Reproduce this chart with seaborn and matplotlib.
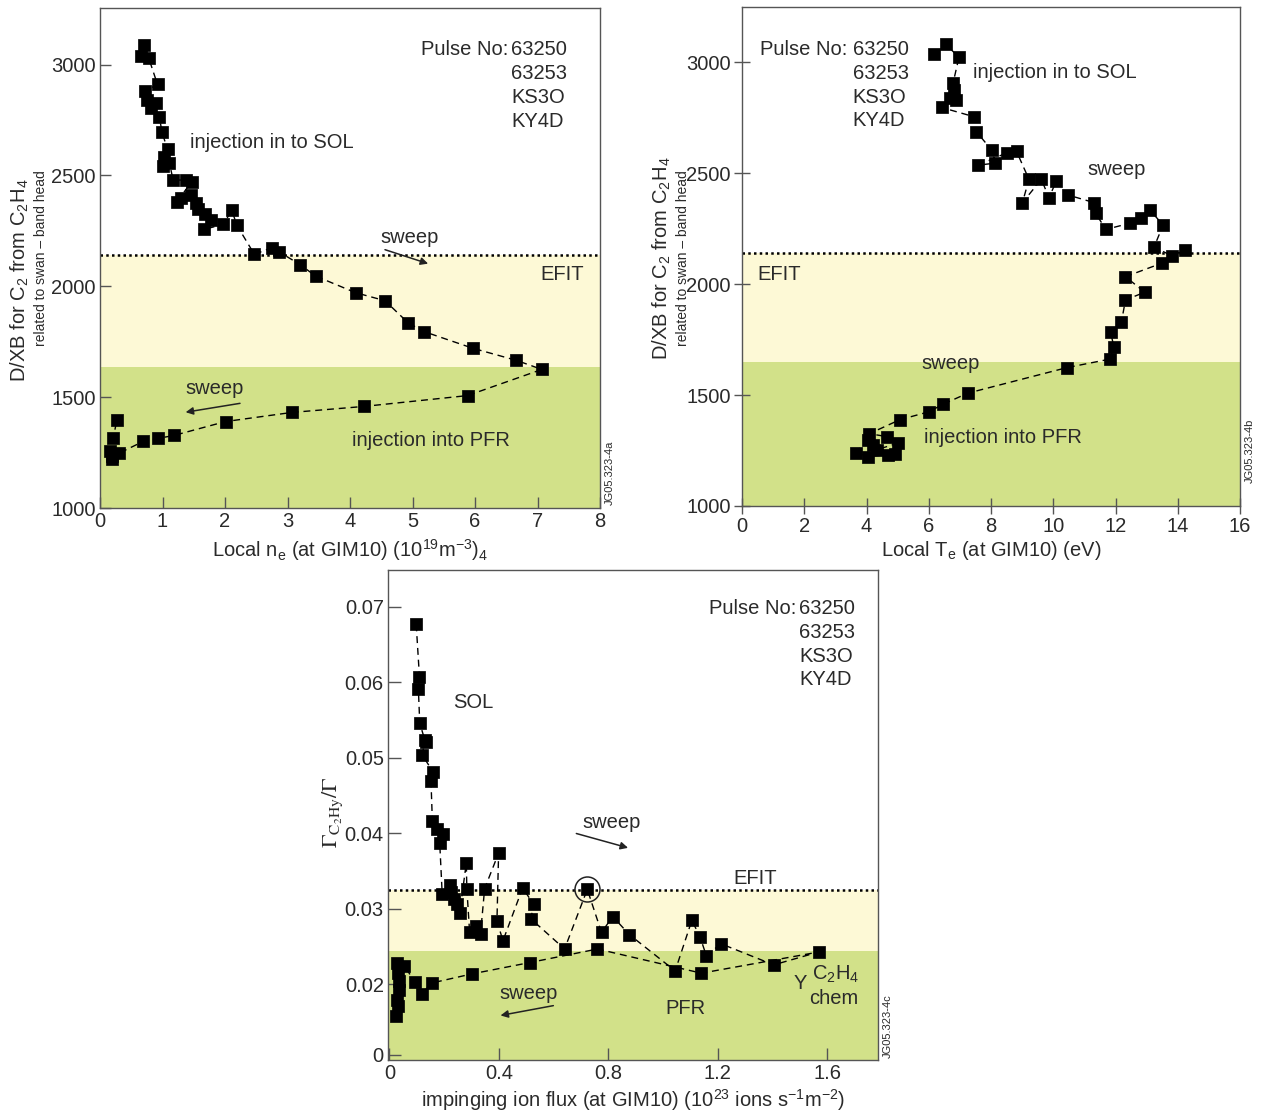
import numpy as np
import pandas as pd
import matplotlib
matplotlib.use("Agg")
import matplotlib.pyplot as plt
import seaborn as sns

# ---------------- data: panel (a) ----------------
ne_a = [0.71, 0.65, 0.78, 0.92, 0.72, 0.75, 0.89, 0.81, 0.95, 0.99, 1.08, 1.03, 1.01, 1.11,
        1.17, 1.37, 1.47, 1.23, 1.29, 1.46, 1.53, 1.56, 1.68, 1.77, 1.67, 1.97, 2.11, 2.19,
        2.47, 2.75, 2.86, 3.20, 3.45, 4.09, 4.56, 4.93, 5.18, 5.97, 6.66, 7.07,
        5.88, 4.22, 3.07, 2.01, 1.18, 0.93, 0.69, 0.31, 0.19, 0.16, 0.19, 0.21, 0.27]
dxb_a = [3089, 3039, 3029, 2910, 2880, 2842, 2827, 2806, 2765, 2697, 2617, 2582, 2542, 2557,
         2479, 2479, 2472, 2382, 2400, 2412, 2377, 2347, 2327, 2298, 2257, 2279, 2342, 2275,
         2144, 2174, 2156, 2098, 2046, 1971, 1935, 1835, 1796, 1720, 1666, 1625,
         1507, 1458, 1431, 1390, 1327, 1314, 1300, 1248, 1236, 1258, 1221, 1314, 1396]

# ---------------- data: panel (b) ----------------
te_b = [6.17, 6.54, 6.97, 6.78, 6.82, 6.89, 6.68, 6.41, 7.46, 7.53, 8.02, 8.14, 7.59, 8.50,
        8.82, 9.22, 9.01, 9.62, 9.86, 10.10, 10.48, 11.31, 11.36, 11.69, 12.46, 12.81, 13.10,
        13.53, 13.24, 13.82, 14.22, 13.49, 12.32, 12.94, 12.32, 12.19, 11.84, 11.95, 11.81,
        10.44, 7.26, 6.46, 6.01, 5.07, 4.09, 4.65, 5.02, 4.34, 4.22, 4.05, 3.66, 4.04, 4.70, 4.91]
dxb_b = [3036, 3083, 3023, 2906, 2875, 2830, 2838, 2797, 2755, 2688, 2605, 2546, 2537, 2592,
         2599, 2473, 2368, 2473, 2390, 2465, 2402, 2368, 2320, 2247, 2275, 2297, 2335,
         2267, 2168, 2127, 2155, 2095, 2034, 1964, 1929, 1829, 1786, 1716, 1662,
         1624, 1509, 1459, 1425, 1389, 1326, 1313, 1284, 1254, 1276, 1299, 1241, 1223, 1231, 1236]

# ---------------- data: panel (c) ----------------
flux_c = [0.098, 0.110, 0.106, 0.111, 0.132, 0.130, 0.120, 0.159, 0.152, 0.157, 0.175, 0.197,
          0.184, 0.193, 0.223, 0.226, 0.235, 0.248, 0.257, 0.281, 0.283, 0.293, 0.318, 0.333,
          0.348, 0.399, 0.393, 0.415, 0.487, 0.527, 0.517, 0.640, 0.723, 0.775, 0.816, 0.877,
          1.044, 1.105, 1.135, 1.158, 1.211, 1.404, 1.568,
          1.140, 0.760, 0.512, 0.301, 0.155, 0.119, 0.093, 0.055, 0.027, 0.030, 0.036, 0.034,
          0.027, 0.030, 0.024]
gamma_c = [0.0677, 0.0607, 0.0591, 0.0546, 0.0521, 0.0524, 0.0504, 0.0482, 0.0470, 0.0417,
           0.0406, 0.0399, 0.0387, 0.0320, 0.0332, 0.0323, 0.0313, 0.0307, 0.0295, 0.0361,
           0.0327, 0.0270, 0.0278, 0.0267, 0.0327, 0.0374, 0.0284, 0.0258, 0.0328, 0.0306,
           0.0287, 0.0247, 0.0326, 0.0269, 0.0290, 0.0266, 0.0218, 0.0285, 0.0263, 0.0238,
           0.0254, 0.0226, 0.0243,
           0.0215, 0.0247, 0.0229, 0.0214, 0.0202, 0.0188, 0.0203, 0.0225, 0.0228, 0.0215,
           0.0204, 0.0193, 0.0180, 0.0171, 0.0158]
circled_index = 32

# region boundaries (EFIT separatrix line and PFR region top)
efit_a, pfr_a = 2143, 1635
efit_b, pfr_b = 2142, 1651
efit_c, pfr_c = 0.03246, 0.02438

xticks_a = [0, 1, 2, 3, 4, 5, 6, 7, 8]
xticks_b = [0, 2, 4, 6, 8, 10, 12, 14, 16]
yticks_ab = [1000, 1500, 2000, 2500, 3000]
xticks_c = [0, 0.4, 0.8, 1.2, 1.6]
xticklabels_c = ["0", "0.4", "0.8", "1.2", "1.6"]
yticks_c = [0.0107, 0.02, 0.03, 0.04, 0.05, 0.06, 0.07]
yticklabels_c = ["0", "0.02", "0.03", "0.04", "0.05", "0.06", "0.07"]

# ---------------- style ----------------
sns.set_theme(style="white")
plt.rcParams["font.family"] = ["Liberation Sans", "DejaVu Sans"]
plt.rcParams["mathtext.fontset"] = "custom"
plt.rcParams["mathtext.rm"] = "Liberation Sans"
plt.rcParams["mathtext.it"] = "Liberation Sans:italic"
plt.rcParams["mathtext.bf"] = "Liberation Sans:bold"
plt.rcParams["mathtext.sf"] = "Liberation Sans"
plt.rcParams["mathtext.default"] = "rm"

TXT = "#2a2a2a"
CREAM = "#FDF9D6"
GREEN = "#D2E189"
TICK_FS = 14.5
ANN_FS = 14.5

fig = plt.figure(figsize=(12.62, 11.13), dpi=100)
ax_a = fig.add_axes([100/1262, 1-508/1113, 500/1262, 500/1113])
ax_b = fig.add_axes([742/1262, 1-506/1113, 498/1262, 499/1113])
ax_c = fig.add_axes([388/1262, 1-1060/1113, 490/1262, 490/1113])


def draw_panel(ax, x, y, efit, pfr, ylo, ms):
    ax.axhspan(ylo, pfr, color=GREEN, lw=0, zorder=0)
    ax.axhspan(pfr, efit, color=CREAM, lw=0, zorder=0)
    ax.axhline(efit, color="black", ls=(0, (1, 1.3)), lw=1.8, zorder=1)
    df = pd.DataFrame({"x": x, "y": y})
    sns.lineplot(data=df, x="x", y="y", sort=False, estimator=None, ax=ax,
                 color="black", lw=1.0, linestyle=(0, (5, 3.5)), zorder=2)
    sns.scatterplot(data=df, x="x", y="y", ax=ax, marker="s", s=ms,
                    color="black", edgecolor="black", linewidth=0.5, zorder=3,
                    clip_on=False)
    ax.set_xlabel("")
    ax.set_ylabel("")
    for sp in ax.spines.values():
        sp.set_color("#555555")
        sp.set_linewidth(1.0)


ARROW = dict(arrowstyle="-|>", color="#222222", lw=1.1, mutation_scale=11, shrinkA=0, shrinkB=0)

# ----- panel a -----
draw_panel(ax_a, ne_a, dxb_a, efit_a, pfr_a, 1000, 85)
ax_a.set_xlim(0, 8)
ax_a.set_ylim(1000, 3255)
ax_a.set_xticks(xticks_a)
ax_a.set_yticks(yticks_ab)
ax_a.tick_params(bottom=True, left=True, direction="in", length=8, width=1, colors="#555555",
                 labelcolor=TXT, labelsize=TICK_FS, pad=3)
ax_a.text(6.53, 3066, "Pulse No:", ha="right", va="center", fontsize=ANN_FS, color=TXT)
for i, s in enumerate(["63250", "63253", "KS3O", "KY4D"]):
    ax_a.text(6.58, 3066 - i * 108, s, ha="left", va="center", fontsize=ANN_FS, color=TXT)
ax_a.text(1.44, 2647, "injection in to SOL", ha="left", va="center", fontsize=ANN_FS, color=TXT)
ax_a.text(4.48, 2219, "sweep", ha="left", va="center", fontsize=ANN_FS, color=TXT)
ax_a.annotate("", xy=(5.25, 2102), xytext=(4.56, 2165), arrowprops=ARROW)
ax_a.text(7.05, 2053, "EFIT", ha="left", va="center", fontsize=ANN_FS, color=TXT)
ax_a.text(1.36, 1539, "sweep", ha="left", va="center", fontsize=ANN_FS, color=TXT)
ax_a.annotate("", xy=(1.37, 1432), xytext=(2.24, 1472), arrowprops=ARROW)
ax_a.text(4.04, 1305, "injection into PFR", ha="left", va="center", fontsize=ANN_FS, color=TXT)
ax_a.text(1.02, 0.07, "JG05.323-4a", transform=ax_a.transAxes, rotation=90,
          ha="center", va="center", fontsize=8, color=TXT)
ax_a.set_xlabel(r"Local n$_e$ (at GIM10) (10$^{19}$m$^{-3}$)$_4$", fontsize=TICK_FS,
                color=TXT, labelpad=4)
fig.text(20/1262, 1-280/1113, r"D/XB for C$_2$ from C$_2$H$_4$", rotation=90,
         ha="center", va="center", fontsize=14.5, color=TXT)
fig.text(41/1262, 1-258/1113, "related to swan – band head", rotation=90,
         ha="center", va="center", fontsize=10, color=TXT)

# ----- panel b -----
draw_panel(ax_b, te_b, dxb_b, efit_b, pfr_b, 1000, 85)
ax_b.set_xlim(0, 16)
ax_b.set_ylim(1000, 3250)
ax_b.set_xticks(xticks_b)
ax_b.set_yticks(yticks_ab)
ax_b.tick_params(bottom=True, left=True, direction="inout", length=12, width=1,
                 colors="#555555", labelcolor=TXT, labelsize=TICK_FS, pad=2)
ax_b.text(3.40, 3060, "Pulse No:", ha="right", va="center", fontsize=ANN_FS, color=TXT)
for i, s in enumerate(["63250", "63253", "KS3O", "KY4D"]):
    ax_b.text(3.56, 3060 - i * 108, s, ha="left", va="center", fontsize=ANN_FS, color=TXT)
ax_b.text(7.42, 2956, "injection in to SOL", ha="left", va="center", fontsize=ANN_FS, color=TXT)
ax_b.text(11.11, 2519, "sweep", ha="left", va="center", fontsize=ANN_FS, color=TXT)
ax_b.text(0.48, 2046, "EFIT", ha="left", va="center", fontsize=ANN_FS, color=TXT)
ax_b.text(5.78, 1641, "sweep", ha="left", va="center", fontsize=ANN_FS, color=TXT)
ax_b.text(5.84, 1308, "injection into PFR", ha="left", va="center", fontsize=ANN_FS, color=TXT)
ax_b.text(1.02, 0.11, "JG05.323-4b", transform=ax_b.transAxes, rotation=90,
          ha="center", va="center", fontsize=8, color=TXT)
ax_b.set_xlabel(r"Local T$_e$ (at GIM10) (eV)", fontsize=TICK_FS, color=TXT, labelpad=2)
fig.text(662/1262, 1-258/1113, r"D/XB for C$_2$ from C$_2$H$_4$", rotation=90,
         ha="center", va="center", fontsize=14.5, color=TXT)
fig.text(683/1262, 1-258/1113, "related to swan – band head", rotation=90,
         ha="center", va="center", fontsize=10, color=TXT)

# ----- panel c -----
draw_panel(ax_c, flux_c, gamma_c, efit_c, pfr_c, 0.0100, 75)
ax_c.plot([flux_c[circled_index]], [gamma_c[circled_index]], marker="o", ms=18,
          mfc="none", mec="#222222", mew=1.1, ls="none", zorder=4)
ax_c.set_xlim(-0.005, 1.785)
ax_c.set_ylim(0.0100, 0.0749)
ax_c.set_xticks(xticks_c)
ax_c.set_xticklabels(xticklabels_c)
ax_c.set_yticks(yticks_c)
ax_c.set_yticklabels(yticklabels_c)
ax_c.tick_params(bottom=True, left=True, direction="in", length=9, width=1, colors="#555555",
                 labelcolor=TXT, labelsize=TICK_FS, pad=3)
ax_c.text(1.487, 0.0698, "Pulse No:", ha="right", va="center", fontsize=ANN_FS, color=TXT)
for i, s in enumerate(["63250", "63253", "KS3O", "KY4D"]):
    ax_c.text(1.498, 0.0698 - i * 0.00315, s, ha="left", va="center", fontsize=ANN_FS, color=TXT)
ax_c.text(0.234, 0.0573, "SOL", ha="left", va="center", fontsize=ANN_FS, color=TXT)
ax_c.text(0.704, 0.0414, "sweep", ha="left", va="center", fontsize=ANN_FS, color=TXT)
ax_c.annotate("", xy=(0.872, 0.0381), xytext=(0.683, 0.0400), arrowprops=ARROW)
ax_c.text(1.258, 0.0341, "EFIT", ha="left", va="center", fontsize=ANN_FS, color=TXT)
ax_c.text(0.402, 0.0188, "sweep", ha="left", va="center", fontsize=ANN_FS, color=TXT)
ax_c.annotate("", xy=(0.406, 0.0159), xytext=(0.599, 0.0172), arrowprops=ARROW)
ax_c.text(1.010, 0.0168, "PFR", ha="left", va="center", fontsize=ANN_FS, color=TXT)
ax_c.text(1.477, 0.0201, "Y", ha="left", va="center", fontsize=ANN_FS, color=TXT)
ax_c.text(1.545, 0.0214, r"C$_2$H$_4$", ha="left", va="center", fontsize=ANN_FS, color=TXT)
ax_c.text(1.535, 0.0181, "chem", ha="left", va="center", fontsize=ANN_FS, color=TXT)
ax_c.text(1.02, 0.07, "JG05.323-4c", transform=ax_c.transAxes, rotation=90,
          ha="center", va="center", fontsize=8, color=TXT)
ax_c.set_xlabel(r"impinging ion flux (at GIM10) (10$^{23}$ ions s$^{-1}$m$^{-2}$)",
                fontsize=TICK_FS, color=TXT, labelpad=3)
fig.text(333/1262, 1-812/1113, r"$\Gamma_{\mathrm{C_2Hy}}/\Gamma$", rotation=90,
         ha="center", va="center", fontsize=16, color=TXT, math_fontfamily="stix")

fig.savefig("out.png", dpi=100)
